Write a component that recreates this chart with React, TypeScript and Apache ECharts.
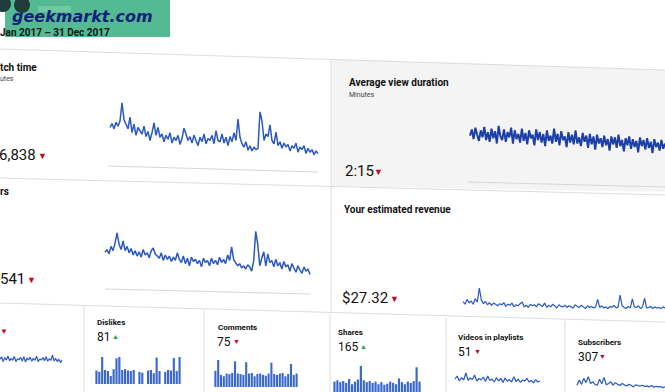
import React, { useEffect, useRef } from 'react';
import * as echarts from 'echarts';

// ---- Data ----
const watchTime = [
  50, 56, 48, 58, 52, 60, 88, 62, 55, 48,
  66, 42, 55, 38, 50, 45, 40, 52, 36, 44,
  30, 42, 57, 38, 50, 35, 40, 28, 38, 32,
  42, 26, 35, 30, 38, 24, 33, 49, 40, 30,
  36, 26, 38, 30, 22, 35, 28, 40, 25, 33,
  30, 38, 25, 45, 30, 28, 40, 26, 35, 22,
  36, 28, 42, 30, 63, 35, 25, 20, 28, 15,
  22, 14, 20, 16, 18, 74, 60, 30, 40, 36,
  54, 30, 25, 43, 22, 28, 18, 26, 20, 24,
  14, 22, 18, 26, 12, 20, 16, 22, 10, 18,
  12, 16, 8, 14, 10,
];

const avgViewDuration = [
  60, 74, 52, 78, 62, 48, 72, 56, 80, 50, 68, 46, 76, 54, 70, 42, 82, 58, 50, 74,
  46, 68, 56, 78, 42, 72, 52, 64, 44, 76, 48, 66, 40, 72, 54, 62, 38, 74, 50, 68,
  44, 64, 36, 72, 48, 60, 42, 76, 46, 64, 38, 70, 50, 58, 34, 68, 44, 62, 40, 72,
  42, 56, 36, 66, 46, 60, 32, 64, 40, 58, 28, 62, 42, 54, 34, 60, 38, 52, 26, 58,
  40, 56, 32, 62, 36, 50, 24, 54, 38, 58, 30, 52, 34, 48, 22, 56, 36, 50, 28, 54,
  32, 46, 20, 52, 34, 44, 26, 50, 30, 42,
];

const views = [
  55, 60, 52, 66, 58, 72, 91, 70, 60, 76,
  58, 66, 54, 62, 50, 58, 48, 56, 46, 60,
  50, 54, 45, 58, 63, 52, 48, 44, 54, 40,
  50, 42, 48, 38, 46, 40, 54, 42, 36, 48,
  34, 44, 30, 46, 38, 42, 34, 40, 28, 44,
  36, 40, 30, 44, 34, 40, 32, 46, 36, 42,
  34, 50, 40, 65, 42, 36, 30, 34, 26, 30,
  24, 32, 28, 20, 40, 94, 70, 30, 44, 56,
  30, 52, 36, 40, 28, 42, 30, 36, 24, 38,
  28, 32, 20, 34, 26, 18, 30, 22, 16, 28,
  20, 24, 14,
];

const revenue = [
  50, 40, 58, 45, 52, 40, 60, 48, 100, 55, 42, 50, 38, 46, 36, 44, 40, 34, 42, 38,
  46, 32, 40, 36, 44, 30, 38, 34, 42, 48, 30, 36, 28, 40, 34, 38, 30, 42, 36, 32,
  44, 28, 36, 30, 40, 34, 26, 38, 32, 30, 36, 28, 34, 30, 26, 38, 32, 28, 36, 30,
  24, 34, 28, 32, 26, 30, 58, 28, 34, 26, 30, 24, 32, 28, 36, 26, 30, 74, 34, 28,
  24, 32, 26, 60, 30, 28, 34, 24, 30, 62, 26, 28, 32, 24, 30, 26, 28, 24, 30, 26,
];

const likes = [
  55, 70, 40, 65, 50, 75, 45, 60, 48, 72, 40, 58, 52, 66, 44, 70, 38, 62, 50, 68,
  42, 60, 48, 74, 40, 56, 50, 65, 45, 70, 42, 58, 48, 80, 44, 60, 40, 55, 35, 50,
];
const dislikes = [
  50, 45, 100, 52, 48, 30, 55, 95, 100, 52, 55, 50, 48, 52, 0, 45, 42, 0, 50, 52,
  40, 98, 48, 0, 45, 52, 50, 96, 48, 100,
];
const comments = [
  60, 100, 45, 40, 50, 48, 52, 95, 50, 48, 45, 92, 50, 52, 40, 48, 50, 45, 42, 50,
  90, 48, 45, 50, 52, 40, 48, 85, 45, 50,
];
const shares = [
  40, 45, 38, 42, 35, 50, 30, 40, 48, 100, 45, 38, 42, 35, 40, 30, 38, 28, 32, 40,
  35, 30, 52, 38, 30, 40, 35, 42, 95, 40,
];
const playlists = [
  55, 70, 45, 62, 50, 85, 48, 60, 52, 75, 45, 58, 50, 65, 42, 70, 48, 55, 40, 62,
  45, 58, 38, 60, 44, 52, 40, 66, 42, 55, 38, 50, 45, 58, 40, 48, 36, 52, 40, 45,
];
const subscribers = [
  40, 70, 45, 80, 55, 90, 50, 60, 45, 40, 75, 48, 85, 42, 50, 60, 40, 55, 45, 38,
  50, 42, 35, 45, 40, 30, 42, 38, 35, 40, 32, 36, 30, 38, 28, 34, 30, 32, 26, 30,
];

// ---- Chart ----
const BLUE = '#2a58c4';
const DARK = '#1d3fa8';
const FONT = 'Roboto';

type Panel = {
  data: number[];
  kind: 'line' | 'bar';
  left: number;
  top: number;
  width: number;
  height: number;
  color: string;
  lw?: number;
};

const panels: Panel[] = [
  { data: watchTime, kind: 'line', left: 110, top: 95, width: 208, height: 65, color: BLUE, lw: 1.5 },
  { data: avgViewDuration, kind: 'line', left: 470, top: 118, width: 205, height: 44, color: DARK, lw: 2 },
  { data: views, kind: 'line', left: 105, top: 228, width: 205, height: 54, color: BLUE, lw: 1.5 },
  { data: revenue, kind: 'line', left: 463, top: 288, width: 210, height: 27, color: BLUE, lw: 1.2 },
  { data: likes, kind: 'line', left: 0, top: 352, width: 62, height: 16, color: BLUE, lw: 1.2 },
  { data: dislikes, kind: 'bar', left: 95, top: 357, width: 86, height: 27, color: '#3b68cc' },
  { data: comments, kind: 'bar', left: 214, top: 360, width: 84, height: 27, color: '#3b68cc' },
  { data: shares, kind: 'bar', left: 333, top: 366, width: 88, height: 26, color: '#3b68cc' },
  { data: playlists, kind: 'line', left: 455, top: 370, width: 85, height: 20, color: BLUE, lw: 1.2 },
  { data: subscribers, kind: 'line', left: 577, top: 375, width: 88, height: 17, color: BLUE, lw: 1.2 },
];

const txt = (
  text: string,
  x: number,
  y: number,
  size: number,
  opts: { weight?: string; fill?: string; family?: string; italic?: boolean } = {}
) => ({
  type: 'text',
  x,
  y,
  z: 10,
  style: {
    text,
    fill: opts.fill || '#111',
    fontSize: size,
    fontWeight: opts.weight || 'normal',
    fontStyle: opts.italic ? 'italic' : 'normal',
    fontFamily: opts.family || FONT,
    verticalAlign: 'middle',
    align: 'left',
  },
});

const ln = (x1: number, y1: number, x2: number, y2: number, color = '#dcdcdc', w = 1) => ({
  type: 'line',
  z: 1,
  shape: { x1, y1, x2, y2 },
  style: { stroke: color, lineWidth: w },
});

const RED = '#d0021b';
const GREEN = '#2e9e3e';

function buildOption() {
  const grid = panels.map((p) => ({ left: p.left, top: p.top, width: p.width, height: p.height, containLabel: false }));
  const xAxis = panels.map((p, i) => ({
    type: 'category',
    gridIndex: i,
    show: false,
    boundaryGap: p.kind === 'bar',
    data: p.data.map((_, k) => String(k)),
  }));
  const yAxis = panels.map((_, i) => ({ type: 'value', gridIndex: i, show: false, min: 0, max: 100 }));
  const series = panels.map((p, i) =>
    p.kind === 'line'
      ? {
          type: 'line',
          xAxisIndex: i,
          yAxisIndex: i,
          data: p.data,
          showSymbol: false,
          smooth: false,
          lineStyle: { color: p.color, width: p.lw },
          itemStyle: { color: p.color },
          z: 3,
        }
      : {
          type: 'bar',
          xAxisIndex: i,
          yAxisIndex: i,
          data: p.data,
          barCategoryGap: '25%',
          itemStyle: { color: p.color },
          z: 3,
        }
  );

  const graphic = [
    // grey card behind "Average view duration"
    {
      type: 'polygon',
      z: 0,
      shape: { points: [[332, 59], [665, 70], [665, 192], [332, 186]] },
      style: { fill: '#f4f4f4' },
    },
    // separators
    ln(0, 49, 665, 70),
    ln(0, 178, 665, 195),
    ln(0, 303, 665, 322),
    ln(331, 59, 331, 186),
    ln(331, 187, 331, 313),
    ln(84, 306, 84, 392),
    ln(204, 310, 204, 392),
    ln(330, 314, 330, 392),
    ln(446, 318, 446, 392),
    ln(565, 321, 565, 392),
    // chart baselines
    ln(108, 166, 318, 172, '#d6d6d6'),
    ln(105, 289, 310, 294, '#d6d6d6'),
    ln(468, 182, 665, 187, '#d6d6d6'),

    // header / watermark
    { type: 'rect', z: 5, shape: { x: 5, y: 0, width: 165, height: 37 }, style: { fill: '#44b48a', opacity: 0.92 } },
    { type: 'circle', z: 6, shape: { cx: 3, cy: 4, r: 8 }, style: { fill: '#1f3b3a' } },
    { type: 'circle', z: 6, shape: { cx: 22, cy: 5, r: 8 }, style: { fill: '#1f3b3a' } },
    { type: 'rect', z: 6, shape: { x: 38, y: 6, width: 33, height: 6 }, style: { fill: '#7fd0a8', opacity: 0.7 } },
    txt('geekmarkt.com', 12, 16, 16, { weight: 'bold', italic: true, fill: '#14207a', family: 'DejaVu Sans' }),
    txt('Jan 2017 – 31 Dec 2017', 0, 32, 10, { weight: 'bold', fill: '#141414' }),

    // top-left card
    txt('tch time', 0, 67, 10, { weight: 'bold' }),
    txt('utes', 0, 79, 7, { fill: '#444' }),
    txt('6,838', -1, 155, 15),
    txt('▼', 38, 156, 9, { fill: RED }),

    // top-right card
    txt('Average view duration', 349, 82, 10, { weight: 'bold' }),
    txt('Minutes', 349, 95, 7, { fill: '#444' }),
    txt('2:15', 345, 171, 15),
    txt('▼', 374, 172, 9, { fill: RED }),

    // middle-left card
    txt('rs', 0, 191, 10, { weight: 'bold' }),
    txt('541', 0, 279, 15),
    txt('▼', 27, 280, 9, { fill: RED }),

    // middle-right card
    txt('Your estimated revenue', 344, 209, 10, { weight: 'bold' }),
    txt('$27.32', 342, 298, 15),
    txt('▼', 390, 299, 9, { fill: RED }),

    // bottom cards
    txt('▼', 0, 331, 8, { fill: RED }),
    txt('Dislikes', 97, 322, 8, { weight: 'bold' }),
    txt('81', 97, 337, 12),
    txt('▲', 112, 337, 7, { fill: GREEN }),
    txt('Comments', 218, 327, 8, { weight: 'bold' }),
    txt('75', 217, 342, 12),
    txt('▼', 233, 342, 7, { fill: RED }),
    txt('Shares', 338, 332, 8, { weight: 'bold' }),
    txt('165', 338, 347, 12),
    txt('▲', 360, 347, 7, { fill: GREEN }),
    txt('Videos in playlists', 458, 337, 8, { weight: 'bold' }),
    txt('51', 458, 352, 12),
    txt('▼', 474, 352, 7, { fill: RED }),
    txt('Subscribers', 578, 342, 8, { weight: 'bold' }),
    txt('307', 578, 357, 12),
    txt('▼', 599, 357, 7, { fill: RED }),
  ];

  return {
    animation: false,
    backgroundColor: '#ffffff',
    grid,
    xAxis,
    yAxis,
    series,
    graphic,
  };
}

export default function App() {
  const ref = useRef<HTMLDivElement>(null);
  useEffect(() => {
    if (!ref.current) return;
    const chart = echarts.init(ref.current, null, { renderer: 'svg' });
    chart.setOption(buildOption() as any);
    return () => chart.dispose();
  }, []);
  return (
    <div
      ref={ref}
      style={{ position: 'fixed', left: 0, top: 0, width: 665, height: 392, background: '#fff' }}
    />
  );
}
